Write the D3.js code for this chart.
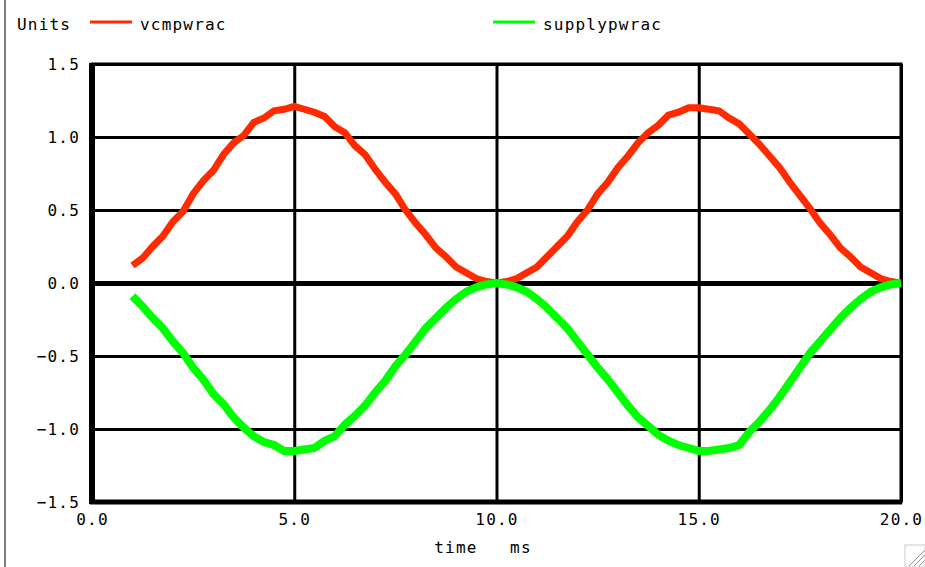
<!DOCTYPE html>
<html>
<head>
<meta charset="utf-8">
<script src="https://cdn.jsdelivr.net/npm/d3@7.9.0/dist/d3.min.js"></script>
<style>
  html, body { margin: 0; padding: 0; background: #fff; }
  svg { display: block; }
  text { font-family: "DejaVu Sans Mono", monospace; font-size: 16px; fill: #000; letter-spacing: 1.2px; }
</style>
</head>
<body>
<svg id="chart" width="925" height="567"></svg>
<script>
// sample times (ms)
const times = [
  1.00, 1.25, 1.50, 1.75, 2.00, 2.25, 2.50, 2.75, 3.00, 3.25, 3.50, 3.75, 4.00, 4.25, 4.50, 4.75,
  5.00, 5.25, 5.50, 5.75, 6.00, 6.25, 6.50, 6.75, 7.00, 7.25, 7.50, 7.75, 8.00, 8.25, 8.50, 8.75,
  9.00, 9.25, 9.50, 9.75, 10.00, 10.25, 10.50, 10.75, 11.00, 11.25, 11.50, 11.75, 12.00, 12.25, 12.50, 12.75,
  13.00, 13.25, 13.50, 13.75, 14.00, 14.25, 14.50, 14.75, 15.00, 15.25, 15.50, 15.75, 16.00, 16.25, 16.50, 16.75,
  17.00, 17.25, 17.50, 17.75, 18.00, 18.25, 18.50, 18.75, 19.00, 19.25, 19.50, 19.75, 20.00
];

const vcmpwrac = [
  0.12, 0.17, 0.25, 0.32, 0.42, 0.49, 0.61, 0.70, 0.77, 0.88, 0.96, 1.01, 1.10, 1.13, 1.18, 1.19,
  1.21, 1.19, 1.17, 1.14, 1.07, 1.03, 0.94, 0.88, 0.78, 0.69, 0.61, 0.50, 0.41, 0.33, 0.24, 0.18,
  0.11, 0.07, 0.03, 0.01, 0.00, 0.01, 0.03, 0.07, 0.11, 0.18, 0.25, 0.32, 0.42, 0.50, 0.61, 0.69,
  0.79, 0.87, 0.96, 1.03, 1.08, 1.15, 1.17, 1.20, 1.20, 1.19, 1.18, 1.13, 1.09, 1.02, 0.95, 0.87,
  0.79, 0.69, 0.60, 0.51, 0.41, 0.33, 0.24, 0.18, 0.11, 0.07, 0.03, 0.01, 0.00
];

const supplypwrac = [
  -0.09, -0.16, -0.24, -0.31, -0.40, -0.48, -0.58, -0.66, -0.76, -0.83, -0.92, -0.99, -1.05, -1.09, -1.11, -1.15,
  -1.15, -1.14, -1.13, -1.08, -1.05, -0.97, -0.91, -0.84, -0.75, -0.67, -0.57, -0.49, -0.40, -0.31, -0.24, -0.17,
  -0.11, -0.06, -0.03, -0.01, 0.00, -0.01, -0.03, -0.06, -0.11, -0.17, -0.24, -0.31, -0.40, -0.49, -0.58, -0.66,
  -0.75, -0.84, -0.92, -0.98, -1.04, -1.08, -1.11, -1.13, -1.15, -1.15, -1.14, -1.13, -1.11, -1.02, -0.95, -0.87,
  -0.78, -0.68, -0.58, -0.48, -0.40, -0.32, -0.24, -0.17, -0.11, -0.06, -0.03, -0.01, 0.00
];

const xTicks = [0, 5, 10, 15, 20];
const yTicks = [-1.5, -1.0, -0.5, 0.0, 0.5, 1.0, 1.5];

const seriesNames = ['vcmpwrac', 'supplypwrac'];
const seriesColors = ['#ff2a00', '#00ff00'];
const seriesWidths = [7, 8];

const svg = d3.select('#chart');
const plotL = 92, plotR = 901, plotT = 64, plotB = 502;

const x = d3.scaleLinear().domain([0, 20]).range([plotL, plotR]);
const y = d3.scaleLinear().domain([-1.5, 1.5]).range([plotB, plotT]);

// window edge at the left
svg.append('line')
  .attr('x1', 5).attr('x2', 5).attr('y1', 0).attr('y2', 567)
  .attr('stroke', '#555').attr('stroke-width', 1.5);

// grid via axes
const yAxis = svg.append('g')
  .attr('transform', `translate(${plotL},0)`)
  .call(d3.axisLeft(y).tickValues(yTicks).tickFormat(d3.format('.1f'))
    .tickSizeInner(-(plotR - plotL)).tickSizeOuter(0).tickPadding(12));
yAxis.select('.domain').remove();
yAxis.selectAll('line')
  .attr('stroke', '#000')
  .attr('stroke-width', d => d === 0 ? 5 : 3);
yAxis.selectAll('text').attr('font-family', null).attr('font-size', null)
  .text(d => d3.format('.1f')(d).replace('-', '\u2212'));

const xAxis = svg.append('g')
  .attr('transform', `translate(0,${plotB})`)
  .call(d3.axisBottom(x).tickValues(xTicks).tickFormat(d3.format('.1f'))
    .tickSizeInner(-(plotB - plotT)).tickSizeOuter(0).tickPadding(12));
xAxis.select('.domain').remove();
xAxis.selectAll('line').attr('stroke', '#000').attr('stroke-width', 3);
xAxis.selectAll('text').attr('font-family', null).attr('font-size', null);

// frame
svg.append('rect')
  .attr('x', plotL).attr('y', plotT)
  .attr('width', plotR - plotL).attr('height', plotB - plotT)
  .attr('fill', 'none').attr('stroke', '#000').attr('stroke-width', 3);
svg.append('line')
  .attr('x1', plotL).attr('x2', plotL).attr('y1', plotT - 1).attr('y2', plotB + 2)
  .attr('stroke', '#000').attr('stroke-width', 6);
svg.append('line')
  .attr('x1', plotL - 2).attr('x2', plotR + 1).attr('y1', plotB).attr('y2', plotB)
  .attr('stroke', '#000').attr('stroke-width', 5);

// curves
const line = d3.line()
  .x((d, i) => x(times[i]))
  .y(d => y(d))
  .curve(d3.curveLinear);

[vcmpwrac, supplypwrac].forEach((values, i) => {
  svg.append('path')
    .datum(values)
    .attr('d', line)
    .attr('fill', 'none')
    .attr('stroke', seriesColors[i])
    .attr('stroke-width', seriesWidths[i])
    .attr('stroke-linejoin', 'miter')
    .attr('stroke-linecap', 'butt');
});

// legend
svg.append('text').attr('x', 17).attr('y', 30).text('Units');
const legendX = [90, 493];
seriesNames.forEach((name, i) => {
  svg.append('line')
    .attr('x1', legendX[i]).attr('x2', legendX[i] + 42)
    .attr('y1', 22).attr('y2', 22)
    .attr('stroke', seriesColors[i]).attr('stroke-width', 3);
  svg.append('text').attr('x', legendX[i] + 50).attr('y', 30).text(name);
});

// x label
svg.append('text').attr('x', 483).attr('y', 553).attr('text-anchor', 'middle')
  .attr('xml:space', 'preserve').text('time   ms');

// resize grip
[0, 5, 10].forEach(o => {
  svg.append('line')
    .attr('x1', 909 + o).attr('y1', 566).attr('x2', 925).attr('y2', 550 + o)
    .attr('stroke', '#999').attr('stroke-width', 1);
});
svg.append('rect').attr('x', 905).attr('y', 545).attr('width', 20).attr('height', 22)
  .attr('fill', 'none').attr('stroke', '#ccc').attr('stroke-width', 1);
</script>
</body>
</html>
